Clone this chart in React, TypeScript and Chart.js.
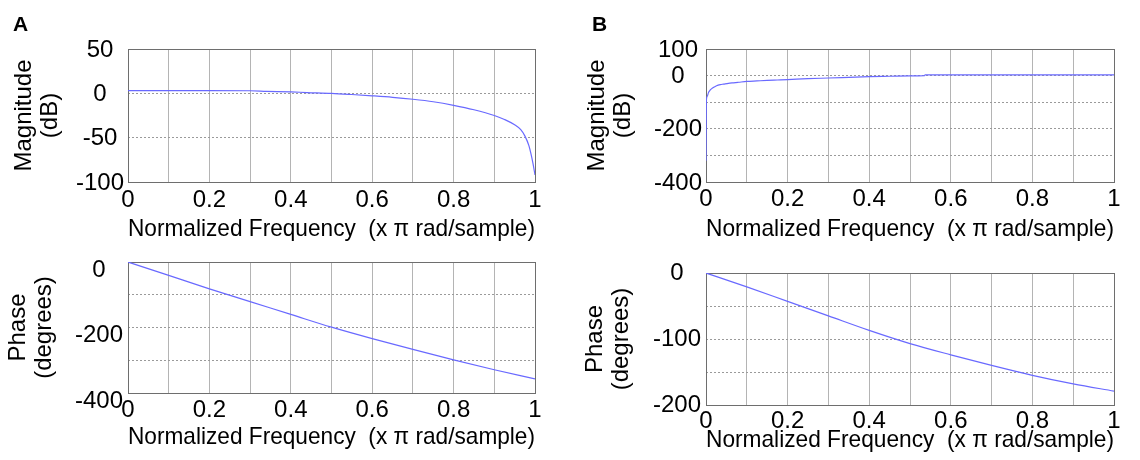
import React, { useEffect, useRef } from 'react';
import { Chart, registerables } from 'chart.js';

Chart.register(...registerables);

const FONT = '"Liberation Sans", Arial, Helvetica, sans-serif';
const LINE_COLOR = 'rgb(105,105,255)';
const X_TITLE = 'Normalized Frequency  (x \u03c0 rad/sample)';
const PANEL_LETTERS = ['A', 'B'];

// Panel A – magnitude (dB)
const freqAMag = [0, 0.1, 0.2, 0.3, 0.34, 0.4, 0.44, 0.5, 0.55, 0.6, 0.65, 0.7, 0.75, 0.8, 0.85, 0.9, 0.925, 0.95, 0.965, 0.975, 0.985, 0.99, 0.995, 1.0];
const magA = [3, 3, 3, 2.9, 2.3, 1.6, 0.9, 0, -1.3, -2.8, -4.5, -6.7, -9.5, -13.5, -18.5, -25, -29.5, -35.5, -41, -48, -59, -68, -79, -92];

// Panel A – phase (degrees)
const freqAPhase = [0, 0.1, 0.2, 0.3, 0.4, 0.5, 0.6, 0.7, 0.8, 0.9, 1.0];
const phaseA = [0, -41, -82, -121, -160, -199, -234, -267, -299, -329, -357];

// Panel B – magnitude (dB)
const freqBMag = [0, 0.0008, 0.003, 0.006, 0.01, 0.014, 0.02, 0.026, 0.035, 0.043, 0.055, 0.067, 0.08, 0.1, 0.125, 0.15, 0.175, 0.2, 0.25, 0.3, 0.35, 0.4, 0.45, 0.5, 0.535, 0.537, 0.6, 0.7, 0.8, 0.9, 1.0];
const magB = [-320, -96, -78, -64, -55, -49, -43, -38, -34, -32, -29, -27, -25, -22, -20, -18, -16.5, -15, -11.5, -9, -6.4, -3.8, -2.5, -1.2, -0.5, 2.5, 2.5, 2.5, 2.5, 2.5, 2.5];

// Panel B – phase (degrees)
const freqBPhase = [0, 0.1, 0.2, 0.3, 0.4, 0.5, 0.6, 0.7, 0.8, 0.9, 1.0];
const phaseB = [0, -21, -43, -65, -87, -107, -124, -140, -155, -168, -179];

// Axis ranges, grid steps and labelled tick values
const xRange = [0, 1];
const xStep = 0.1;
const xTickLabels = [0, 0.2, 0.4, 0.6, 0.8, 1];

const yAMagRange = [-100, 50];
const yAMagStep = 50;
const yAMagLabels = [50, 0, -50, -100];

const yAPhaseRange = [-400, 0];
const yAPhaseStep = 100;
const yAPhaseLabels = [0, -200, -400];

const yBMagRange = [-400, 100];
const yBMagStep = 100;
const yBMagLabels = [100, 0, -200, -400];

const yBPhaseRange = [-200, 0];
const yBPhaseStep = 50;
const yBPhaseLabels = [0, -100, -200];

const W = 1140;
const H = 460;
const FS = 24;

const framePlugin = {
  id: 'frameBox',
  beforeDatasetsDraw(chart: any) {
    const { ctx, chartArea } = chart;
    ctx.save();
    ctx.strokeStyle = '#6e6e6e';
    ctx.lineWidth = 1;
    ctx.strokeRect(
      Math.round(chartArea.left) + 0.5,
      Math.round(chartArea.top) + 0.5,
      Math.round(chartArea.right - chartArea.left),
      Math.round(chartArea.bottom - chartArea.top)
    );
    ctx.restore();
  },
};

const letterPlugin = {
  id: 'panelLetter',
  afterDraw(chart: any, _args: any, opts: any) {
    if (!opts || !opts.text) return;
    const { ctx } = chart;
    ctx.save();
    ctx.font = `bold 21px ${FONT}`;
    ctx.fillStyle = '#000';
    ctx.textAlign = 'left';
    ctx.textBaseline = 'middle';
    ctx.fillText(opts.text, opts.x, opts.y);
    ctx.restore();
  },
};

type PanelSpec = {
  freq: number[];
  vals: number[];
  yRange: number[];
  yStep: number;
  yLabels: number[];
  yTitle: string[];
  plot: { left: number; top: number; right: number; bottom: number };
  axisLeft: number;
  xTickCenter: number;
  xTitleCenter: number;
  yTitleCenter: number;
  yLabelCenter: number;
  yLabelOffset: number;
  letter?: { text: string; x: number; y: number };
};

function makeConfig(p: PanelSpec): any {
  const tickFont = { family: FONT, size: FS, lineHeight: 1.2 };
  const tickLH = FS * 1.2;
  const yTitleLH = 26;
  const xAxisBottom = p.xTitleCenter + tickLH / 2;
  const widest = FS * 2.001; // width of a label like "-100"
  return {
    type: 'line',
    data: {
      datasets: [
        {
          data: p.freq.map((f, i) => ({ x: f, y: p.vals[i] })),
          borderColor: LINE_COLOR,
          borderWidth: 1.2,
          pointRadius: 0,
          fill: false,
          cubicInterpolationMode: 'monotone',
        },
      ],
    },
    options: {
      responsive: false,
      animation: false,
      events: [],
      layout: {
        padding: {
          left: p.axisLeft,
          top: p.plot.top,
          right: W - p.plot.right,
          bottom: H - xAxisBottom,
        },
      },
      plugins: {
        legend: { display: false },
        tooltip: { enabled: false },
        title: { display: false },
        panelLetter: p.letter || {},
      },
      scales: {
        x: {
          type: 'linear',
          min: xRange[0],
          max: xRange[1],
          afterFit: (s: any) => {
            s.height = xAxisBottom - p.plot.bottom;
          },
          ticks: {
            stepSize: xStep,
            autoSkip: false,
            maxRotation: 0,
            padding: p.xTickCenter - p.plot.bottom - tickLH / 2,
            color: '#000',
            font: tickFont,
            callback: (v: number) => {
              const hit = xTickLabels.find((t) => Math.abs(t - v) < 1e-6);
              return hit === undefined ? '' : String(hit);
            },
          },
          grid: { color: '#b4b4b4', lineWidth: 1, drawTicks: false },
          border: { display: false },
          title: {
            display: true,
            text: X_TITLE,
            color: '#000',
            font: { family: FONT, size: FS, lineHeight: 1.2 },
            padding: { top: 0, bottom: 0 },
          },
        },
        y: {
          type: 'linear',
          min: p.yRange[0],
          max: p.yRange[1],
          afterFit: (s: any) => {
            s.width = p.plot.left - p.axisLeft;
          },
          ticks: {
            stepSize: p.yStep,
            autoSkip: false,
            padding: p.plot.left - p.yLabelCenter - widest / 2,
            crossAlign: 'center',
            labelOffset: p.yLabelOffset,
            color: '#000',
            font: tickFont,
            callback: (v: number) => {
              const hit = p.yLabels.find((t) => Math.abs(t - v) < 1e-6);
              return hit === undefined ? '' : String(hit);
            },
          },
          grid: { color: '#9a9a9a', lineWidth: 1, drawTicks: false },
          border: { display: false, dash: [2, 2] },
          title: {
            display: true,
            text: p.yTitle,
            color: '#000',
            font: { family: FONT, size: FS, lineHeight: yTitleLH / FS },
            padding: { top: p.yTitleCenter - p.axisLeft - yTitleLH / 2, bottom: 0 },
          },
        },
      },
    },
    plugins: [framePlugin, letterPlugin],
  };
}

const panels: PanelSpec[] = [
  {
    freq: freqAMag,
    vals: magA,
    yRange: yAMagRange,
    yStep: yAMagStep,
    yLabels: yAMagLabels,
    yTitle: ['Magnitude', '(dB)'],
    plot: { left: 128, top: 49, right: 535, bottom: 182 },
    axisLeft: 0,
    xTickCenter: 200,
    xTitleCenter: 229,
    yTitleCenter: 24.5,
    yLabelCenter: 100,
    yLabelOffset: 1,
    letter: { text: PANEL_LETTERS[0], x: 13, y: 25 },
  },
  {
    freq: freqBMag,
    vals: magB,
    yRange: yBMagRange,
    yStep: yBMagStep,
    yLabels: yBMagLabels,
    yTitle: ['Magnitude', '(dB)'],
    plot: { left: 706, top: 49, right: 1114, bottom: 182 },
    axisLeft: 570,
    xTickCenter: 199,
    xTitleCenter: 229,
    yTitleCenter: 597.5,
    yLabelCenter: 678,
    yLabelOffset: 1,
    letter: { text: PANEL_LETTERS[1], x: 592, y: 25 },
  },
  {
    freq: freqAPhase,
    vals: phaseA,
    yRange: yAPhaseRange,
    yStep: yAPhaseStep,
    yLabels: yAPhaseLabels,
    yTitle: ['Phase', '(degrees)'],
    plot: { left: 128, top: 262, right: 535, bottom: 393 },
    axisLeft: 0,
    xTickCenter: 410,
    xTitleCenter: 437,
    yTitleCenter: 18.5,
    yLabelCenter: 99,
    yLabelOffset: 8,
  },
  {
    freq: freqBPhase,
    vals: phaseB,
    yRange: yBPhaseRange,
    yStep: yBPhaseStep,
    yLabels: yBPhaseLabels,
    yTitle: ['Phase', '(degrees)'],
    plot: { left: 706, top: 273, right: 1114, bottom: 405 },
    axisLeft: 570,
    xTickCenter: 421,
    xTitleCenter: 440,
    yTitleCenter: 595.5,
    yLabelCenter: 677,
    yLabelOffset: 0,
  },
];

export default function App() {
  const refs = [useRef<HTMLCanvasElement>(null), useRef<HTMLCanvasElement>(null), useRef<HTMLCanvasElement>(null), useRef<HTMLCanvasElement>(null)];

  useEffect(() => {
    const charts: Chart[] = [];
    panels.forEach((p, i) => {
      const c = refs[i].current;
      if (c) charts.push(new Chart(c, makeConfig(p)));
    });
    return () => charts.forEach((c) => c.destroy());
  }, []);

  return (
    <div style={{ position: 'absolute', left: 0, top: 0, width: W, height: H, background: '#fff' }}>
      {refs.map((r, i) => (
        <canvas
          key={i}
          ref={r}
          width={W}
          height={H}
          style={{ position: 'absolute', left: 0, top: 0, width: W, height: H }}
        />
      ))}
    </div>
  );
}
